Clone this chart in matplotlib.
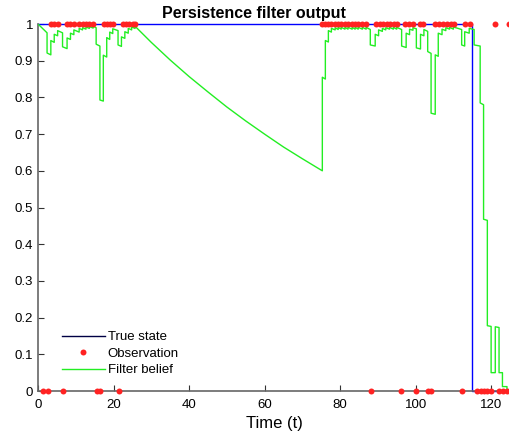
import numpy as np
import matplotlib.pyplot as plt
from matplotlib.lines import Line2D

plt.rcParams['font.family'] = ['Liberation Sans', 'DejaVu Sans']

# true state of the feature
state_t = [0, 115.0, 115.0, 125]
state_v = [1, 1, 0, 0]

# observations (1 = seen, 0 = not seen)
obs_pos = [3.4, 4.3, 5.2, 7.7, 8.6, 9.5, 10.9, 11.8, 12.7, 13.6, 14.6,
           17.5, 18.3, 19.1, 19.9, 22.5, 23.3, 24.2, 25.1, 25.8,
           75.2, 76.0, 76.8, 77.6, 78.7, 79.5, 80.3, 81.3, 82.1, 83.2, 84.0,
           84.8, 85.9, 86.9, 89.5, 90.5, 91.4, 92.3, 93.2, 94.3, 95.1,
           97.2, 98.3, 99.3, 101.2, 102.0, 105.2, 106.2, 107.3, 108.3,
           109.4, 110.2, 113.2, 114.4, 121.1, 124.8]
obs_neg = [1.3, 2.6, 6.6, 15.6, 16.4, 21.4, 88.2, 96.2, 100.1, 103.3, 104.1,
           112.3, 116.3, 117.2, 118.1, 119.0, 120.0, 122.1, 123.2, 124.2]

# filter belief (time, value)
belief_t = [0, 2.4, 2.4, 3.4, 3.4, 4.3, 4.3, 5.2, 5.2, 6.5, 6.5, 7.7, 7.7,
            8.6, 8.6, 9.5, 9.5, 10.9, 10.9, 11.8, 11.8, 12.7, 12.7, 13.6,
            13.6, 14.6, 14.6, 15.4, 15.4, 16.4, 16.4, 17.3, 17.3, 18.2, 18.2,
            19.0, 19.0, 19.8, 19.8, 21.2, 21.2, 22.1, 22.1, 23.0, 23.0, 23.9,
            23.9, 24.8, 24.8, 25.7, 25.7,
            30, 35, 40, 45, 50, 55, 60, 65, 70, 75.3,
            75.3, 76.1, 76.1, 76.9, 76.9, 77.7, 77.7, 78.7, 78.7, 79.5, 79.5,
            80.3, 80.3, 81.3, 81.3, 82.1, 82.1, 83.2, 83.2, 84.0, 84.0, 84.8,
            84.8, 85.9, 85.9, 86.9, 86.9, 88.0, 88.0, 89.3, 89.3, 90.2, 90.2,
            91.2, 91.2, 92.1, 92.1, 93.1, 93.1, 94.1, 94.1, 95.0, 95.0, 96.3,
            96.3, 97.5, 97.5, 98.4, 98.4, 99.3, 99.3, 100.2, 100.2, 101.3,
            101.3, 102.2, 102.2, 103.2, 103.2, 104.1, 104.1, 105.2, 105.2,
            106.0, 106.0, 107.0, 107.0, 108.0, 108.0, 109.0, 109.0, 110.0,
            110.0, 112.2, 112.2, 113.0, 113.0, 114.2, 114.2, 115.5, 115.5,
            117.1, 117.1, 118.0, 118.0, 119.0, 119.0, 120.0, 120.0, 121.1,
            121.1, 122.1, 122.1, 123.0, 123.0, 124.2, 124.2, 125]
belief_v = [1.0, 0.976, 0.921, 0.916, 0.955, 0.950, 0.972, 0.968, 0.982,
            0.976, 0.938, 0.933, 0.962, 0.958, 0.975, 0.971, 0.984, 0.978,
            0.988, 0.984, 0.990, 0.986, 0.992, 0.988, 0.993, 0.989, 0.994,
            0.990, 0.945, 0.940, 0.793, 0.790, 0.915, 0.910, 0.963, 0.958,
            0.978, 0.974, 0.987, 0.982, 0.943, 0.939, 0.965, 0.961, 0.979,
            0.975, 0.988, 0.984, 0.992, 0.988, 0.994,
            0.950, 0.902, 0.857, 0.815, 0.774, 0.736, 0.700, 0.665, 0.633, 0.600,
            0.855, 0.850, 0.955, 0.951, 0.982, 0.978, 0.988, 0.984, 0.990,
            0.985, 0.991, 0.986, 0.991, 0.986, 0.991, 0.986, 0.991, 0.986,
            0.991, 0.986, 0.991, 0.986, 0.991, 0.986, 0.991, 0.986, 0.991,
            0.985, 0.943, 0.940, 0.972, 0.968, 0.984, 0.980, 0.988, 0.984,
            0.990, 0.986, 0.991, 0.986, 0.991, 0.986, 0.991, 0.985, 0.940,
            0.936, 0.975, 0.971, 0.986, 0.983, 0.990, 0.987, 0.935, 0.932,
            0.972, 0.968, 0.985, 0.980, 0.925, 0.920, 0.757, 0.754, 0.916,
            0.912, 0.975, 0.971, 0.986, 0.982, 0.990, 0.986, 0.991, 0.986,
            0.992, 0.985, 0.943, 0.940, 0.979, 0.975, 0.988, 0.985, 0.943,
            0.940, 0.785, 0.780, 0.468, 0.465, 0.178, 0.176, 0.050, 0.050,
            0.175, 0.173, 0.050, 0.050, 0.012, 0.012, 0.002, 0.002]

fig = plt.figure(figsize=(5.1, 4.32), dpi=100)
ax = fig.add_axes([0.0745, 0.0949, 0.9255, 0.8495])

ax.plot(state_t, state_v, color='#0000ff', lw=1, clip_on=False, zorder=2)
ax.plot(obs_pos, np.ones(len(obs_pos)), 'o', color='#ff2222', ms=4.3,
        mew=0, clip_on=False, zorder=4)
ax.plot(obs_neg, np.zeros(len(obs_neg)), 'o', color='#ff2222', ms=4.3,
        mew=0, clip_on=False, zorder=4)
ax.plot(belief_t, belief_v, color='#22ee22', lw=1, zorder=3)

ax.set_xlim(0, 125)
ax.set_ylim(0, 1)
ax.set_xticks([0, 20, 40, 60, 80, 100, 120])
ax.set_yticks(np.arange(0, 1.01, 0.1))
ax.set_yticklabels(['0', '0.1', '0.2', '0.3', '0.4', '0.5', '0.6', '0.7',
                    '0.8', '0.9', '1'])
ax.tick_params(direction='in', length=4, width=0.8, color='#333333',
               labelsize=9.5)
ax.tick_params(axis='x', pad=6)
for s in ['top', 'right']:
    ax.spines[s].set_visible(False)
for s in ['left', 'bottom']:
    ax.spines[s].set_color('#666666')
    ax.spines[s].set_linewidth(1.2)

ax.set_xlabel('Time (t)', fontsize=12, labelpad=3)
fig.text(0.498, 0.968, 'Persistence filter output', ha='center', va='center',
         fontsize=11.5, fontweight='bold')

handles = [Line2D([], [], color='#000044', lw=1),
           Line2D([], [], ls='', marker='o', color='#ff2222', ms=4.3, mew=0),
           Line2D([], [], color='#22ee22', lw=1)]
ax.legend(handles, ['True state', 'Observation', 'Filter belief'],
          loc='lower left', bbox_to_anchor=(0.025, 0.008), frameon=False,
          fontsize=9.5, handlelength=3.3, labelspacing=0.32,
          handletextpad=0.2)

fig.savefig('out.png', dpi=100)
